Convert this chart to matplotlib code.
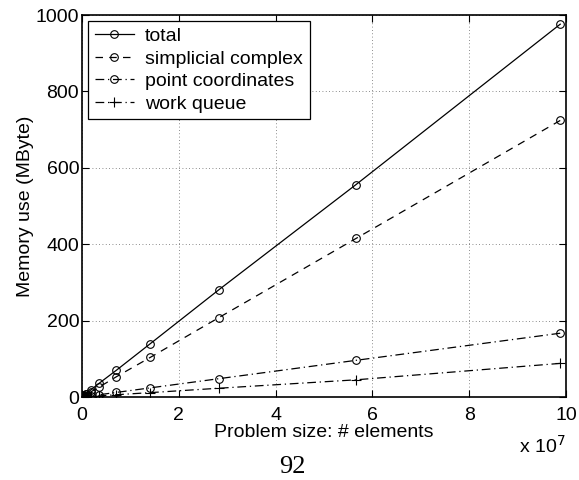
import matplotlib
matplotlib.use("Agg")
import matplotlib.pyplot as plt

# problem size (# elements) and memory use in MByte
elements = [9.88e7, 5.66e7, 2.83e7, 1.415e7, 7.1e6, 3.55e6, 1.77e6,
            8.8e5, 4.4e5, 2.2e5, 1.1e5, 5.5e4]
total = [976, 556, 281, 140, 70, 36, 18, 9, 4.6, 2.4, 1.3, 0.7]
simplicial = [724, 415, 208, 104, 53, 26, 13, 6.6, 3.3, 1.7, 0.9, 0.5]
points = [167, 96, 48, 24, 12, 6, 3, 1.5, 0.8, 0.4, 0.2, 0.1]
queue = [88, 45, 23, 11.5, 6, 3, 1.5, 0.8, 0.4, 0.2, 0.1, 0.05]

xticks = [0, 2, 4, 6, 8, 10]
yticks = [0, 200, 400, 600, 800, 1000]

plt.rcParams['font.family'] = 'Liberation Sans'
plt.rcParams['font.size'] = 14

fig = plt.figure(figsize=(5.79, 4.8), dpi=100)
ax = fig.add_axes([0.1416, 0.1729, 0.836, 0.7958])

xs = [e / 1e7 for e in elements]
mk = dict(markersize=5.5, markerfacecolor='none', markeredgewidth=0.8, color='black', linewidth=0.9)
ax.plot(xs, total, '-', marker='o', label='total', **mk)
ax.plot(xs, simplicial, linestyle=(0, (6, 5)), marker='o', label='simplicial complex', **mk)
ax.plot(xs, points, linestyle=(0, (7, 3, 1, 3)), marker='o', label='point coordinates', **mk)
ax.plot(xs, queue, linestyle=(0, (7, 3, 1, 3)), marker='+', label='work queue',
        markersize=7, markeredgewidth=0.8, color='black', linewidth=0.9)

ax.set_xlim(0, 10)
ax.set_ylim(0, 1000)
ax.set_xticks(xticks)
ax.set_yticks(yticks)
ax.grid(True, linestyle=(0, (1, 3)), color='black', linewidth=0.6, alpha=0.6)
ax.tick_params(direction='in', top=True, right=True, length=5, labelsize=14)
ax.tick_params(axis='x', pad=7)
ax.tick_params(axis='y', pad=2)
for s in ax.spines.values():
    s.set_linewidth(1.2)

ax.set_xlabel('Problem size: # elements', labelpad=0)
ax.set_ylabel('Memory use (MByte)', labelpad=1)
ax.text(1.0, -0.1, r'x 10$^{7}$', transform=ax.transAxes, ha='right', va='top', fontsize=14)

leg = ax.legend(loc='upper left', borderaxespad=0.3, handlelength=2.0, numpoints=1,
                fancybox=False, framealpha=1, edgecolor='black', borderpad=0.35,
                labelspacing=0.25, handletextpad=0.6)
leg.get_frame().set_linewidth(0.9)

fig.text(0.505, 0.005, '92', ha='center', va='bottom', fontsize=19, family='Liberation Serif')

fig.savefig('out.png', dpi=100)
